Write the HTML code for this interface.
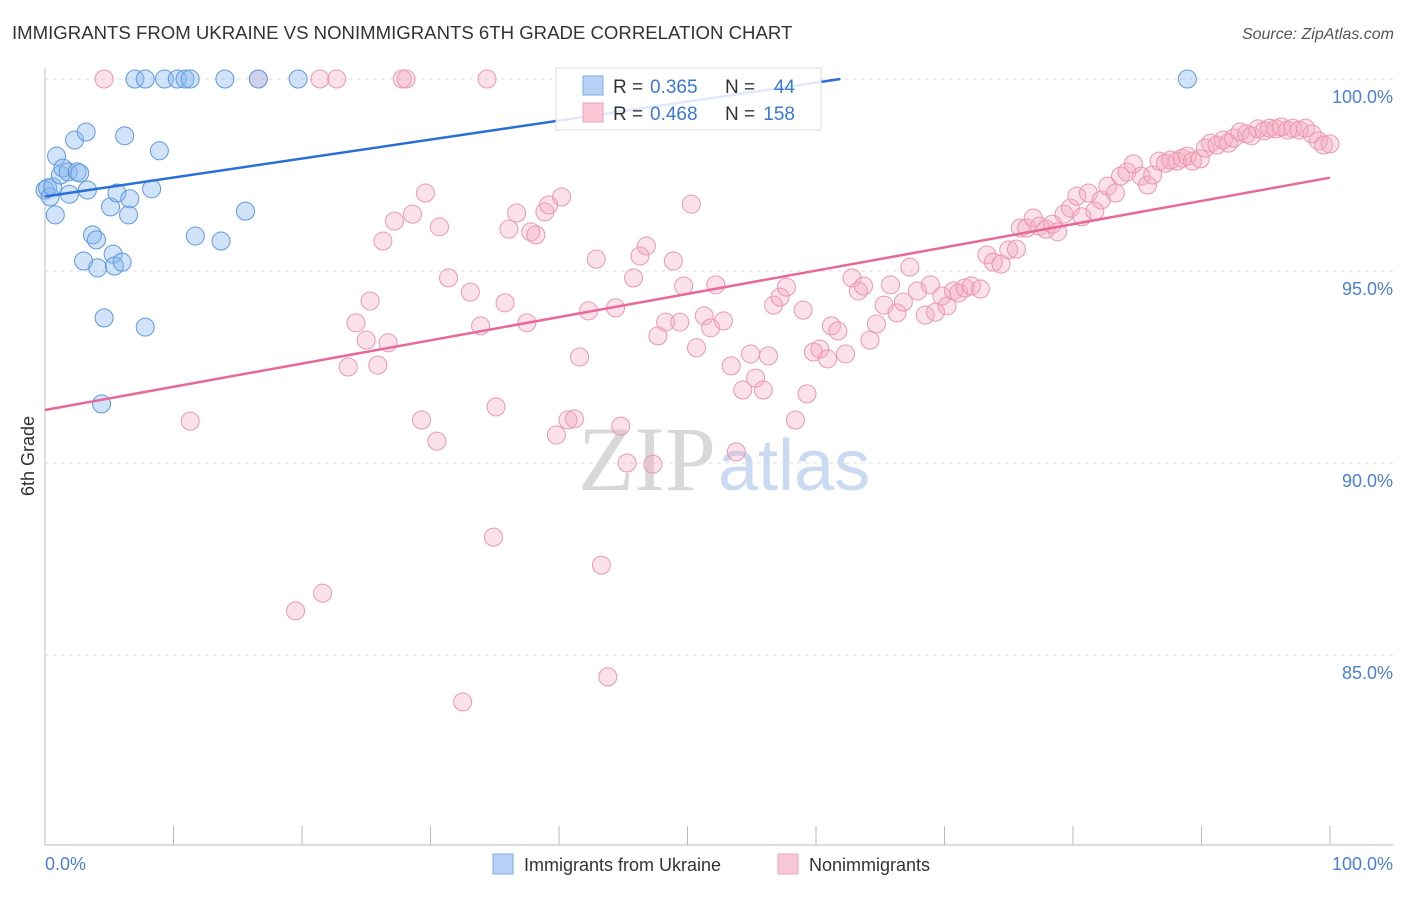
<!DOCTYPE html>
<html><head><meta charset="utf-8"><style>
body{margin:0;background:#fff;font-family:"Liberation Sans",sans-serif;}
</style></head><body>
<svg width="1406" height="892" xmlns="http://www.w3.org/2000/svg">
<text x="12" y="39" font-size="18.6" fill="#333">IMMIGRANTS FROM UKRAINE VS NONIMMIGRANTS 6TH GRADE CORRELATION CHART</text>
<text x="1394" y="39" font-size="16" fill="#555" font-style="italic" text-anchor="end">Source: ZipAtlas.com</text>
<g id="grid"></g>
<text x="716" y="490" font-size="92" font-family="Liberation Serif,serif" fill="#d8d8d8" text-anchor="end">ZIP</text>
<text x="718" y="490" font-size="72" fill="#c9daf2">atlas</text>
<g id="marks"></g>
<text transform="translate(34,456) rotate(-90)" font-size="18" fill="#333" text-anchor="middle">6th Grade</text>
<text x="45" y="870" font-size="18" fill="#4a7fd4">0.0%</text>
<text x="1393" y="870" font-size="18" fill="#4a7fd4" text-anchor="end">100.0%</text>
<g>
<rect x="556" y="68" width="265" height="62" fill="#fff" fill-opacity="0.85" stroke="#ddd"/>
<rect x="583" y="76" width="20" height="19" fill="#b7d2f5" stroke="#7eaae6"/>
<rect x="583" y="103" width="20" height="19" fill="#f9c7d6" stroke="#eea0b8"/>
<text x="613" y="93" font-size="19" fill="#333">R =</text>
<text x="650" y="93" font-size="19" fill="#3a78d8">0.365</text>
<text x="725" y="93" font-size="19" fill="#333">N =</text>
<text x="795" y="93" font-size="19" fill="#3a78d8" text-anchor="end">44</text>
<text x="613" y="120" font-size="19" fill="#333">R =</text>
<text x="650" y="120" font-size="19" fill="#3a78d8">0.468</text>
<text x="725" y="120" font-size="19" fill="#333">N =</text>
<text x="795" y="120" font-size="19" fill="#3a78d8" text-anchor="end">158</text>
</g>
<g>
<rect x="493" y="854" width="20" height="20" fill="#b7d2f5" stroke="#7eaae6"/>
<text x="524" y="871" font-size="18" fill="#333">Immigrants from Ukraine</text>
<rect x="778" y="854" width="20" height="20" fill="#f9c7d6" stroke="#eea0b8"/>
<text x="809" y="871" font-size="18" fill="#333">Nonimmigrants</text>
</g>
</svg>
<script>
const yTicks=[100,95,90,85];
const yTickLabels=["100.0%","95.0%","90.0%","85.0%"];
const xTicks=[0,10,20,30,40,50,60,70,80,90,100];
const blueX=[0,0.2,0.4,0.6,0.8,0.9,1.2,1.4,1.8,1.9,2.3,2.5,2.7,3.2,3.3,3.7,4.0,3.0,4.1,4.6,4.4,5.1,5.3,5.4,5.6,6.0,6.2,6.5,6.6,7.8,8.3,8.9,11.7,13.7,15.6,7.0,7.8,9.3,10.3,10.9,11.3,14.0,16.6,19.7,88.9];
const blueY=[97.11,97.16,96.93,97.19,96.46,97.99,97.5,97.68,97.58,97.0,98.41,97.58,97.55,98.62,97.11,95.94,95.81,95.26,95.08,93.78,91.54,96.67,95.44,95.13,97.03,95.23,98.52,96.46,96.88,93.54,97.14,98.13,95.91,95.78,96.56,100,100,100,100,100,100,100,100,100,100];
const pinkX=[4.6,16.6,21.4,22.7,27.8,28.1,34.4,11.3,19.5,21.6,23.6,24.2,25.0,25.3,25.9,26.7,26.3,27.2,28.6,29.3,29.6,30.5,30.7,31.4,32.5,33.1,33.9,34.9,35.1,35.8,36.1,36.7,37.5,37.8,38.2,38.9,39.2,39.8,40.2,40.7,41.2,41.6,42.3,42.9,43.3,43.8,44.4,44.8,45.3,45.8,46.3,46.8,47.3,47.7,48.3,48.9,49.4,49.7,50.3,50.7,51.3,51.8,52.2,52.8,53.4,53.8,54.3,54.9,55.3,55.9,56.3,56.7,57.2,57.7,58.4,59.0,59.3,59.8,60.3,60.9,61.2,61.7,62.3,62.8,63.3,63.7,64.2,64.7,65.3,65.8,66.3,66.8,67.3,67.9,68.5,68.9,69.3,69.8,70.2,70.7,71.1,71.6,72.1,72.8,73.3,73.8,74.4,75.0,75.6,75.9,76.4,76.9,77.4,77.9,78.4,78.8,79.3,79.8,80.3,80.7,81.2,81.7,82.2,82.7,83.3,83.7,84.2,84.7,85.3,85.8,86.2,86.7,87.2,87.6,88.1,88.5,88.9,89.3,89.9,90.3,90.7,91.2,91.7,92.1,92.5,93.0,93.5,93.9,94.4,94.9,95.3,95.8,96.2,96.7,97.1,97.6,98.1,98.6,99.1,99.5,100.0];
const pinkY=[100,100,100,100,100,100,100,91.09,86.15,86.61,92.5,93.65,93.2,94.22,92.55,93.13,95.78,96.3,96.48,91.12,97.03,90.57,96.15,94.82,83.78,94.45,93.57,88.07,91.46,94.17,96.09,96.51,93.65,96.02,95.94,96.54,96.72,90.73,96.93,91.12,91.15,92.76,93.96,95.31,87.34,84.43,94.04,90.96,90.0,94.82,95.39,95.65,89.97,93.31,93.67,95.26,93.67,94.61,96.74,93.0,93.83,93.52,94.64,93.7,92.53,90.29,91.9,92.84,92.21,91.9,92.79,94.11,94.32,94.58,91.12,93.98,91.8,92.89,92.97,92.71,93.57,93.44,92.84,94.82,94.48,94.61,93.2,93.62,94.11,94.64,93.91,94.19,95.10,94.48,93.85,94.64,93.93,94.35,94.09,94.48,94.43,94.56,94.61,94.53,95.42,95.23,95.18,95.55,95.57,96.12,96.12,96.38,96.17,96.09,96.22,96.02,96.48,96.64,96.95,96.41,97.03,96.56,96.85,97.21,97.03,97.47,97.58,97.79,97.47,97.24,97.5,97.86,97.81,97.89,97.86,97.94,97.99,97.86,97.92,98.2,98.33,98.28,98.41,98.33,98.46,98.62,98.57,98.52,98.7,98.65,98.72,98.7,98.75,98.67,98.72,98.67,98.72,98.57,98.39,98.28,98.31];
const blueTrend=[96.94,100,61.9];
const pinkTrend=[91.38,97.43,100];

const NS="http://www.w3.org/2000/svg";
const xs=v=>45+v*12.85;
const ys=v=>79+(100-v)*38.4;
function mk(tag,attrs,parent){const e=document.createElementNS(NS,tag);for(const k in attrs)e.setAttribute(k,attrs[k]);parent.appendChild(e);return e;}
const grid=document.getElementById('grid');
const marks=document.getElementById('marks');
yTicks.forEach((t,i)=>{
  const l=mk('line',{x1:45,x2:1393,y1:ys(t),y2:ys(t),stroke:'#ddd','stroke-dasharray':'4,4'},grid);
  
  
  const tx=mk('text',{x:1393,y:ys(t)+24,'font-size':18,fill:'#4a7fd4','text-anchor':'end'},grid);
  tx.textContent=yTickLabels[i];
  
  
});
const ax=mk('line',{x1:45,x2:1393,y1:845,y2:845,stroke:'#bbb'},grid);


const ay=mk('line',{x1:45,x2:45,y1:68,y2:845,stroke:'#bbb'},grid);


xTicks.forEach(t=>{
  const l=mk('line',{x1:xs(t),x2:xs(t),y1:826,y2:845,stroke:'#bbb'},grid);
  
  
});
pinkX.forEach((x,i)=>{
  const c=mk('circle',{cx:xs(x),cy:ys(pinkY[i]),r:9,fill:'#f4a9c0','fill-opacity':0.35,stroke:'#ec97b2','stroke-width':1},marks);
  
  
});
blueX.forEach((x,i)=>{
  const c=mk('circle',{cx:xs(x),cy:ys(blueY[i]),r:9,fill:'#8ab8ee','fill-opacity':0.4,stroke:'#5f98e0','stroke-width':1},marks);
  
  
});
const bl=mk('line',{x1:xs(0),y1:ys(blueTrend[0]),x2:xs(blueTrend[2]),y2:ys(blueTrend[1]),stroke:'#2a6fd6','stroke-width':2.5},marks);


const pl=mk('line',{x1:xs(0),y1:ys(pinkTrend[0]),x2:xs(pinkTrend[2]),y2:ys(pinkTrend[1]),stroke:'#e8689a','stroke-width':2.5},marks);


</script>
</body></html>
